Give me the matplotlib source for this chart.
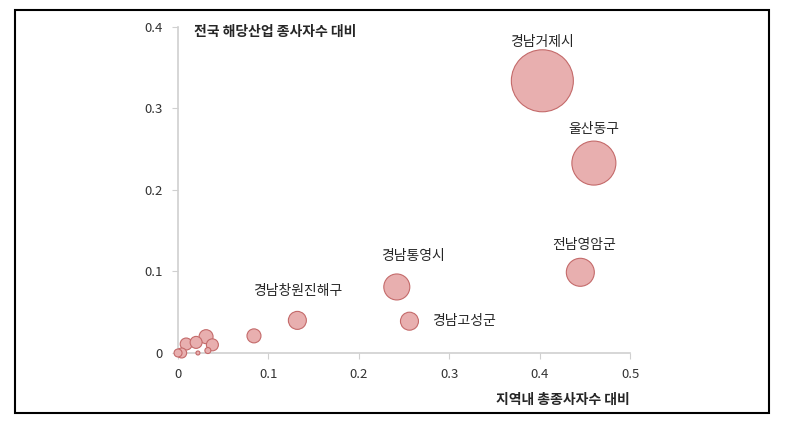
import matplotlib
matplotlib.use('Agg')
import matplotlib.pyplot as plt
from matplotlib.patches import Rectangle

plt.rcParams['font.family'] = ['Noto Sans CJK KR', 'DejaVu Sans']

# share of regional employment (x), share of national industry employment (y), bubble size
regions = ['경남거제시', '울산동구', '전남영암군', '경남통영시', '경남고성군', '경남창원진해구',
           '', '', '', '', '', '', '', '', '']
x_share = [0.403, 0.460, 0.445, 0.242, 0.256, 0.132,
           0.084, 0.031, 0.009, 0.020, 0.038, 0.033, 0.004, 0.000, 0.022]
y_share = [0.334, 0.233, 0.099, 0.081, 0.039, 0.040,
           0.021, 0.020, 0.011, 0.013, 0.010, 0.003, 0.000, 0.000, 0.000]
bubble = [961, 484, 196, 169, 81, 81,
          49, 49, 36, 36, 36, 9, 25, 16, 4]

# label offsets in points, alignment
label_off = {
    '경남거제시': (0, 28, 'center'),
    '울산동구': (0, 24.5, 'center'),
    '전남영암군': (3, 19.5, 'center'),
    '경남통영시': (12, 22, 'center'),
    '경남고성군': (16.5, 0, 'left'),
    '경남창원진해구': (0, 21, 'center'),
}

fig = plt.figure(figsize=(7.85, 4.29), dpi=100)
ax = fig.add_axes([0.2268, 0.1772, 0.5758, 0.7599])

# bubble value is proportional to pixel area; convert radius px -> points
sizes = [(1.44 * b ** 0.5) ** 2 for b in bubble]
ax.scatter(x_share, y_share, s=sizes, facecolor='#E8AFAF',
           edgecolor='#C46A6A', linewidth=0.8, clip_on=False, zorder=3)

for name, xv, yv in zip(regions, x_share, y_share):
    if not name:
        continue
    dx, dy, ha = label_off[name]
    ax.annotate(name, (xv, yv), xytext=(dx, dy), textcoords='offset points',
                ha=ha, va='center', fontsize=10, color='#262626')

ax.set_xlim(0, 0.5)
ax.set_ylim(0, 0.4)
ax.set_xticks([0, 0.1, 0.2, 0.3, 0.4, 0.5])
ax.set_xticklabels(['0', '0.1', '0.2', '0.3', '0.4', '0.5'])
ax.set_yticks([0, 0.1, 0.2, 0.3, 0.4])
ax.set_yticklabels(['0', '0.1', '0.2', '0.3', '0.4'])
for s in ['top', 'right']:
    ax.spines[s].set_visible(False)
for s in ['left', 'bottom']:
    ax.spines[s].set_color('#D0D0D0')
    ax.spines[s].set_linewidth(1.2)
ax.tick_params(colors='#D0D0D0', labelcolor='#333333', labelsize=9.5, length=4, pad=7)

ax.text(0.035, 0.985, '전국 해당산업 종사자수 대비', transform=ax.transAxes,
        ha='left', va='center', fontsize=10, fontweight='bold', color='#262626')
ax.text(1.0, -0.145, '지역내 총종사자수 대비', transform=ax.transAxes,
        ha='right', va='center', fontsize=10, fontweight='bold', color='#262626')

fig.patches.append(Rectangle((0.0191, 0.0373), 0.9605, 0.9394, transform=fig.transFigure,
                             fill=False, edgecolor='black', linewidth=1.5))

fig.savefig('out.png', dpi=100)
